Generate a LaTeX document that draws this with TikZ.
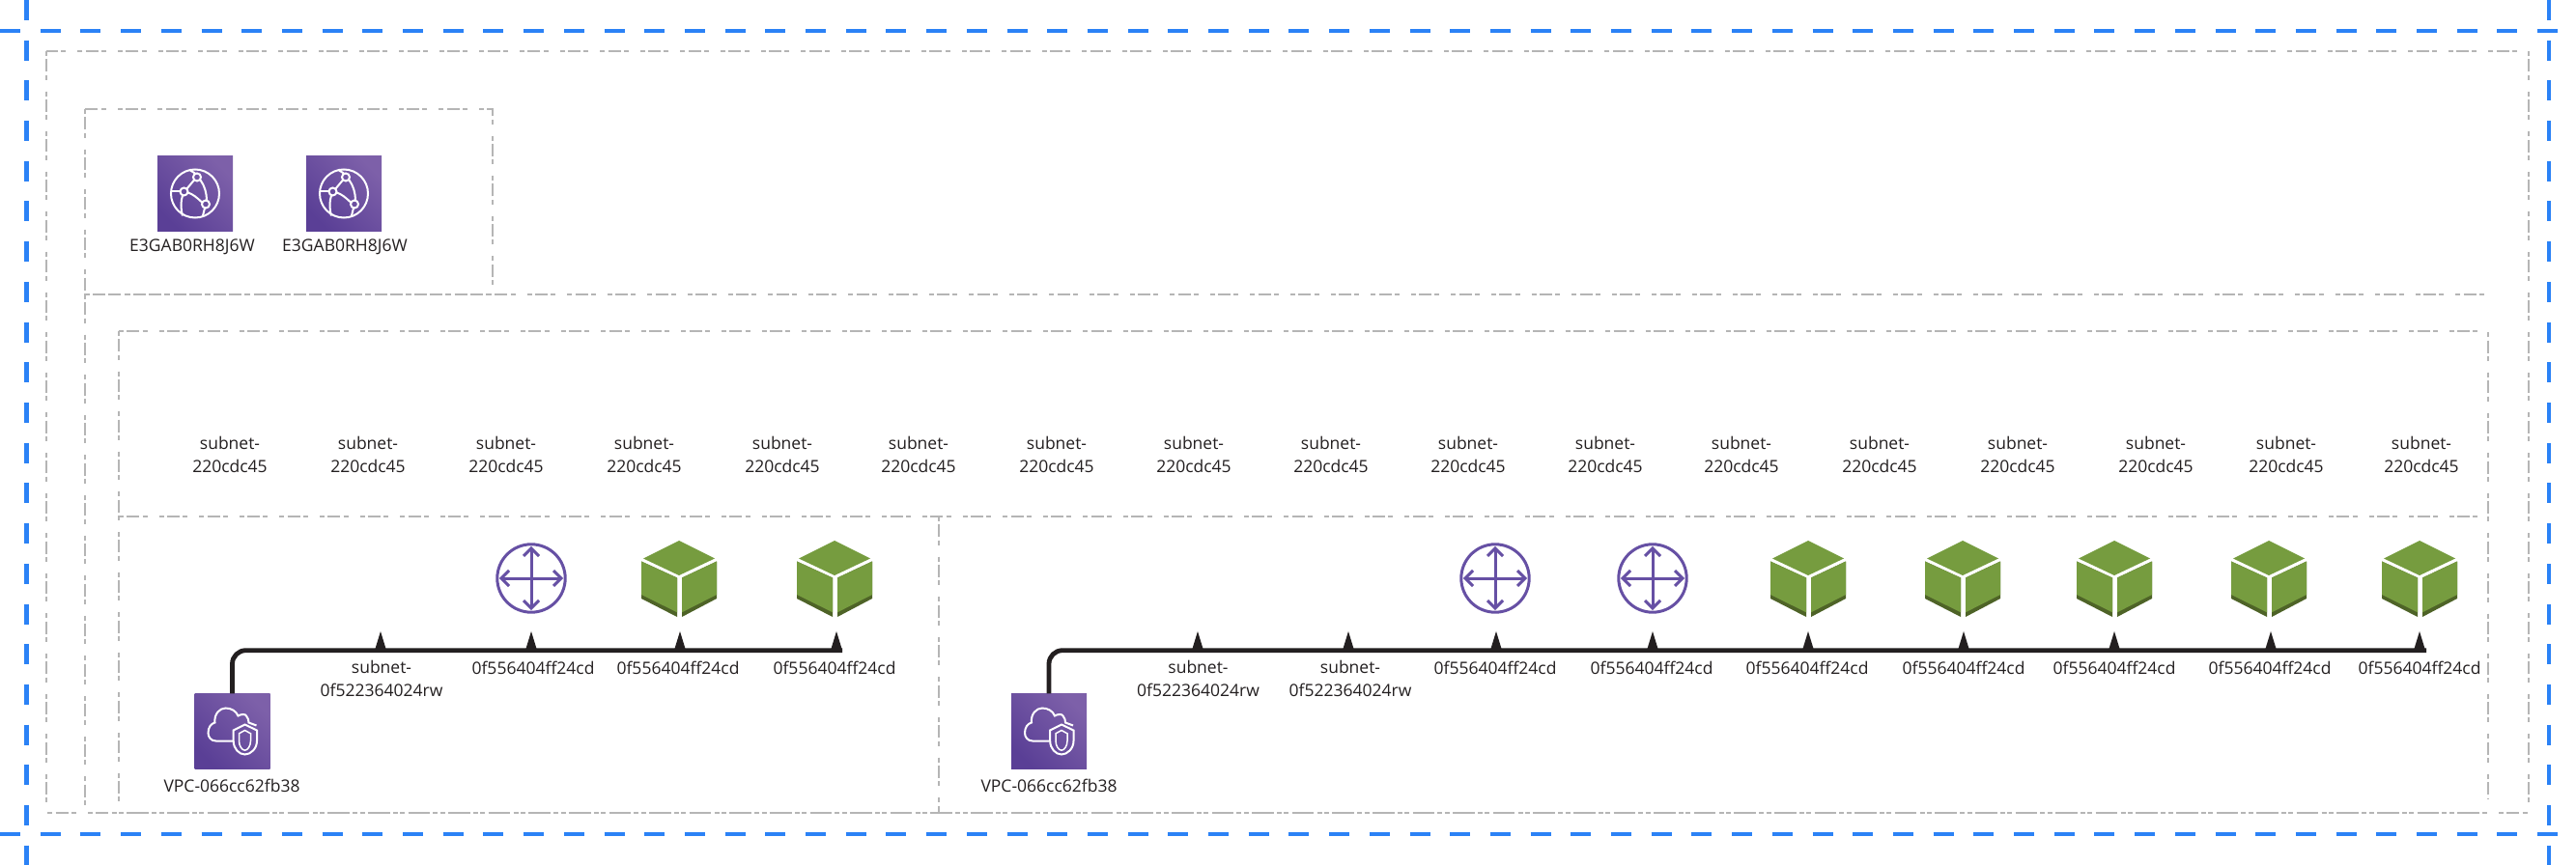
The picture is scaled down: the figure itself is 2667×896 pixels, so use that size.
\documentclass[tikz,border=0pt]{standalone}
\usepackage{fontspec}
\setmainfont{Open Sans}
\definecolor{bluedash}{HTML}{2B82F6}
\definecolor{greydash}{HTML}{B5B5B5}
\definecolor{purA}{HTML}{5A3F96}
\definecolor{purB}{HTML}{7D60A9}
\definecolor{purline}{HTML}{6650A4}
\definecolor{cubeG}{HTML}{769C3F}
\definecolor{cubeD}{HTML}{4E6327}
\definecolor{inkc}{HTML}{231F20}
\tikzset{x=1pt,y=-1pt,
 bluel/.style={draw=bluedash,line width=4.7pt,dash pattern=on 21pt off 20.7pt},
 greyl/.style={draw=greydash,line width=2.2pt,dash pattern=on 5pt off 3.3pt on 13pt off 3.3pt on 5pt off 12pt},
 greyt/.style={draw=greydash,line width=1.7pt,dash pattern=on 5pt off 3.3pt on 13pt off 3.3pt on 5pt off 12pt},
 lab/.style={font=\fontsize{17.5pt}{23.3pt}\selectfont,text=inkc,align=center,inner sep=0pt},
 trunk/.style={draw=inkc,line width=4.8pt,rounded corners=14pt},
 tip/.style={fill=inkc,draw=none},
 rline/.style={draw=purline,line width=3pt},
 iconline/.style={draw=white,line width=2pt}}
\newcommand{\pbox}[3]{% name, center x, center y
 \node[minimum size=78pt,inner sep=0pt,anchor=center] (#1) at (#2,#3) {};
 \shade[bottom color=purA,top color=purB,shading angle=-45]
   (#2-39,#3-39) rectangle (#2+39,#3+39);}
\newcommand{\cfront}[3]{\pbox{#1}{#2}{#3}
 \begin{scope}[shift={(#2,#3)}]
  \draw[iconline] (0,0) circle (25pt);
  \draw[iconline] (-11.5,-2) circle (4pt) (2,-17) circle (4pt) (11,11) circle (4pt);
  \draw[iconline] (-8.5,-5) -- (-1,-14);
  \draw[iconline] (-7.5,-1) .. controls (-3,0) and (3,5) .. (7,9);
  \draw[iconline] (5.5,-14) .. controls (10,-8) and (12,0) .. (12,7);
  \draw[iconline] (-13,2) .. controls (-15,8) and (-15,16) .. (-13,23);
  \draw[iconline] (-25,-2) -- (-15.5,-2);
  \draw[iconline] (0,-21) -- (-5,-24);
  \draw[iconline] (10,15) -- (8,23);
 \end{scope}}
\newcommand{\vpcicon}[3]{\pbox{#1}{#2}{#3}
 \begin{scope}[shift={(#2,#3)}]
  \draw[iconline] (1,10) -- (-17,10) .. controls (-22,10) and (-25,6) .. (-25,1.7)
    .. controls (-25,-4) and (-22,-8) .. (-18,-9)
    .. controls (-19,-18) and (-13,-24) .. (-7,-24) .. controls (-1,-24) and (4,-21) .. (6,-16)
    .. controls (9,-18) and (14,-18) .. (14.5,-16) .. controls (16.5,-14) and (17,-11) .. (17,-9) -- (25,-6);
  \draw[iconline,fill=white,fill opacity=0] (1.2,-1) -- (13,-7) -- (25.5,-1) -- (25.5,10) .. controls (25.5,18) and (19,24) .. (13,24)
    .. controls (7,24) and (1.2,18) .. (1.2,10) -- cycle;
  \draw[draw=white,line width=1.5pt] (7,2.3) -- (13,-1) -- (19,2.3) -- (19,10) .. controls (19,15) and (16,19.7) .. (13,19.7)
    .. controls (10,19.7) and (7,15) .. (7,10) -- cycle;
 \end{scope}}
\newcommand{\router}[3]{%
 \node[circle,minimum size=73pt,inner sep=0pt] (#1) at (#2,#3) {};
 \begin{scope}[shift={(#2,#3)}]
  \draw[rline] (0,0) circle (35.2pt);
  \draw[rline] (-31,0) -- (31,0) (0,-31) -- (0,31);
  \draw[rline] (-23,-8) -- (-31,0) -- (-23,8) (23,-8) -- (31,0) -- (23,8)
     (-8,-23) -- (0,-31) -- (8,-23) (-8,23) -- (0,31) -- (8,23);
 \end{scope}}
\newcommand{\cube}[3]{%
 \node[minimum width=78pt,minimum height=79pt,inner sep=0pt] (#1) at (#2,#3) {};
 \begin{scope}[shift={(#2,#3)}]
  \fill[cubeG] (0,-39.5) -- (37,-21) -- (0,-3.5) -- (-37,-21) -- cycle;
  \fill[cubeD] (-39,-18) -- (-2,-1) -- (-2,39.5) -- (-39,20.5) -- cycle;
  \fill[cubeG] (-39,-18) -- (-2,-1) -- (-2,34.8) -- (-39,16.5) -- cycle;
  \fill[cubeD] (39,-18) -- (3,-1) -- (3,39.5) -- (39,20.5) -- cycle;
  \fill[cubeG] (39,-18) -- (3,-1) -- (3,34.8) -- (39,16.5) -- cycle;
 \end{scope}}
\newcommand{\tipat}[2]{\fill[tip] (#1-6,673.5) -- (#1,654) -- (#1+6,673.5) -- cycle;
 \coordinate (#2) at (#1,673.7);}
\begin{document}
\begin{tikzpicture}
\useasboundingbox (0,0) rectangle (2667,896);
\fill[white] (0,0) rectangle (2667,896);
% blue frame lines
\coordinate (bl1) at (0,32); \coordinate (bl2) at (2667,32);
\coordinate (bl3) at (0,864); \coordinate (bl4) at (2667,864);
\coordinate (bl5) at (27.5,0); \coordinate (bl6) at (27.5,896);
\coordinate (bl7) at (2639,0); \coordinate (bl8) at (2639,896);
\draw[bluel] (bl1) -- (bl2);
\draw[bluel] (bl3) -- (bl4);
\draw[bluel] (bl5) -- (bl6);
\draw[bluel] (bl7) -- (bl8);
% grey containers
\draw[greyt] (48,53) rectangle (2618,842);
\draw[greyl] (88,113) rectangle (510,305);
\draw[greyl] (88,305) -- (2574,305);
\draw[greyl] (88,305) -- (88,842);
\draw[greyl] (123,343) -- (2576,343) -- (2576,828);
\draw[greyl] (123,343) -- (123,842);
\draw[greyl] (123,535) -- (2576,535);
\draw[greyl] (972,535) -- (972,842);
\draw[greyl] (123,842) -- (2576,842);
% cloudfront
\cfront{cf1}{202}{200.5}
\cfront{cf2}{356}{200.5}
\node[lab] (cfl1) at (199,256) {E3GAB0RH8J6W};
\node[lab] (cfl2) at (357,256) {E3GAB0RH8J6W};
% subnet labels
\foreach \n/\xx in {a/238,b/381,c/524,d/667,e/810,f/951,g/1094,h/1236,i/1378,j/1520,k/1662,l/1803,m/1946,n/2089,o/2232,p/2367,q/2507}{
 \node[lab] (s\n) at (\xx,471) {subnet-\\220cdc45};
}
% panel 1
\vpcicon{vpc1}{240.5}{757.5}
\node[lab] (vl1) at (240,814) {VPC-066cc62fb38};
\router{r1}{550}{599}
\cube{c1}{703}{599.5}
\cube{c2}{864}{599.5}
\tipat{394}{t1}\tipat{550}{t2}\tipat{704}{t3}\tipat{866}{t4}
\coordinate (e1) at (872,673.7);
\draw[trunk] (vpc1.north) |- (e1);
\node[lab] (l11) at (395,703) {subnet-\\0f522364024rw};
\node[lab] (l12) at (552,692) {0f556404ff24cd};
\node[lab] (l13) at (702,692) {0f556404ff24cd};
\node[lab] (l14) at (864,692) {0f556404ff24cd};
% panel 2
\vpcicon{vpc2}{1086}{757.5}
\node[lab] (vl2) at (1086,814) {VPC-066cc62fb38};
\router{r2}{1548}{599}
\router{r3}{1711}{599}
\cube{c3}{1872}{599.5}\cube{c4}{2032}{599.5}\cube{c5}{2189}{599.5}\cube{c6}{2349}{599.5}\cube{c7}{2505}{599.5}
\tipat{1240}{t5}\tipat{1396}{t6}\tipat{1549}{t7}\tipat{1711}{t8}\tipat{1872}{t9}\tipat{2033}{t10}\tipat{2189}{t11}\tipat{2351}{t12}\tipat{2505}{t13}
\coordinate (e2) at (2512,673.7);
\draw[trunk] (vpc2.north) |- (e2);
\node[lab] (l21) at (1240.5,703) {subnet-\\0f522364024rw};
\node[lab] (l22) at (1398,703) {subnet-\\0f522364024rw};
\foreach \n/\xx in {3/1548,4/1710,5/1871,6/2033,7/2189,8/2350,9/2505}{
 \node[lab] (l2\n) at (\xx,692) {0f556404ff24cd};
}
\end{tikzpicture}
\end{document}
